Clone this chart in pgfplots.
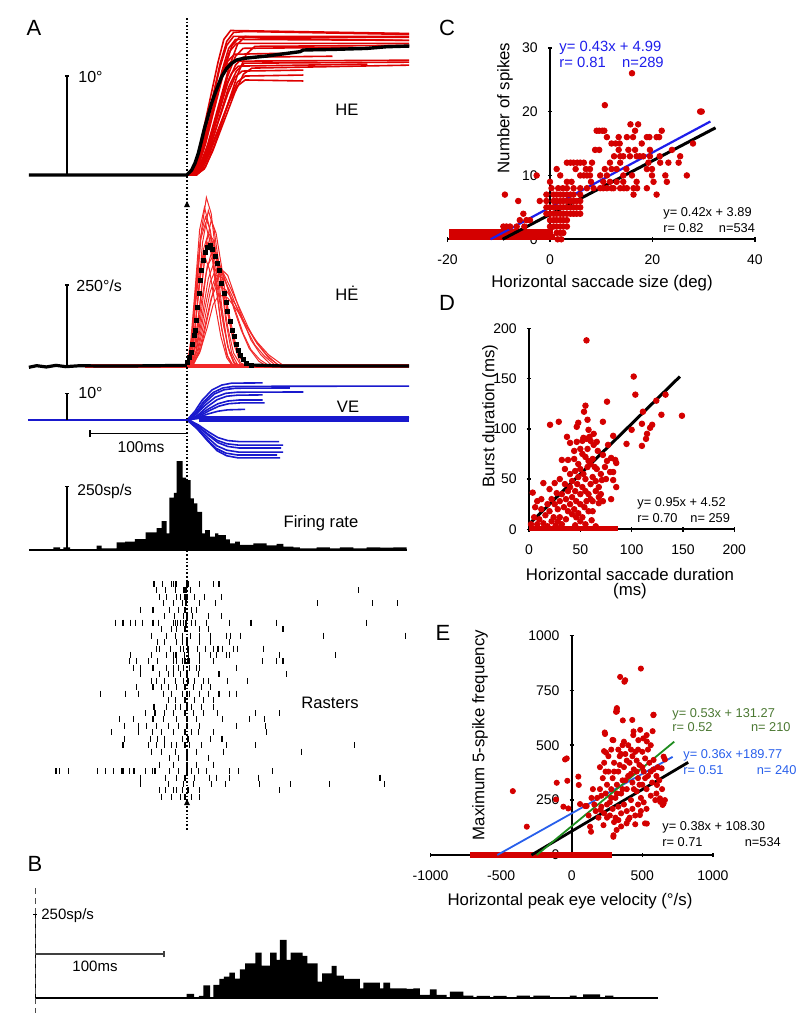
\documentclass[border=0pt]{standalone}
\usepackage{pgfplots}
\pgfplotsset{compat=1.18}
\usepackage{fontspec}
\setmainfont{Liberation Sans}
\definecolor{dotred}{RGB}{212,0,0}
\definecolor{herd}{RGB}{222,0,0}
\definecolor{velred}{RGB}{242,40,40}
\definecolor{veblue}{RGB}{25,25,205}
\definecolor{cblue}{RGB}{30,30,235}
\definecolor{eblue}{RGB}{40,95,235}
\definecolor{egreen}{RGB}{30,140,30}
\definecolor{tgreen}{RGB}{75,120,50}
\newcommand\fs[1]{\fontsize{#1}{#1}\selectfont}
\pgfplotsset{
  Abox/.style={scale only axis, width=191pt, xmin=-163.9, xmax=229.9, hide axis, clip=false, anchor=south west},
  scat/.style={only marks, mark=*, mark size=1.4pt, color=dotred, mark options={draw=dotred, fill=dotred}},
  sc/.style={scale only axis, anchor=south west, clip=false,
    tick align=outside, major tick length=2.2pt, tick style={black, line width=0.8pt},
    tick label style={font=\fs{7}},
    /pgf/number format/assume math mode=true,
    /pgf/number format/1000 sep={},
    xticklabel style={yshift=-3pt}, yticklabel style={xshift=-1.5pt}},
  noarrow/.style={axis line style={-, line width=1pt},
    every inner x axis line/.append style={-}, every inner y axis line/.append style={-},
    every outer x axis line/.append style={-}, every outer y axis line/.append style={-}},
  he/.style={herd, line width=0.8pt},
  ve/.style={velred, line width=0.5pt},
  vb/.style={veblue, line width=0.8pt},
}
\begin{document}
\begin{tikzpicture}
\path[use as bounding box] (0,0) rectangle (400pt,-506.5pt);

% ---------------- A: HE ----------------
\begin{axis}[Abox, at={(14pt,-90pt)}, height=80pt, ymin=-0.505, ymax=15.66]
\addplot[he] coordinates {(-105,0)(2,0)(9,0.9)(16,3.2)(25,7.2)(34,11.2)(41,13.5)(48,14.4)(60,14.5)(229,14.2)};
\addplot[he] coordinates {(-105,0)(4,0)(11.5,0.8)(19,3.1)(29,7)(39,10.8)(46.5,13.1)(54,13.9)(229,13.9)};
\addplot[he] coordinates {(-105,0)(3,0)(10,0.8)(17.5,2.9)(27,6.7)(36.5,10.4)(44,12.5)(51,13.3)(229,13.3)};
\addplot[he] coordinates {(-105,0)(6,0)(14,0.8)(21.5,2.8)(32,6.4)(42,10)(50,12)(58,12.8)(175,12.9)};
\addplot[he] coordinates {(-105,0)(5,0)(13,0.9)(21.5,3.1)(32.5,7)(43.5,10.9)(52,13.2)(60,14)(80,13.8)(229,13.6)};
\addplot[he] coordinates {(-105,0)(2,0)(8.6,0.7)(15,2.5)(24,5.8)(33,9)(39,10.8)(46,11.5)(229,11.6)};
\addplot[he] coordinates {(-105,0)(5,0)(12,0.7)(19.5,2.4)(29,5.5)(38.5,8.6)(46,10.3)(53,11)(186,11.2)};
\addplot[he] coordinates {(-105,0)(7,0)(14.5,0.6)(22,2.3)(32,5.3)(42,8.2)(49.5,9.9)(57,10.5)(120,10.6)};
\addplot[he] coordinates {(-105,0)(8,0)(16,0.6)(23.5,2.2)(34,5)(44.5,7.8)(52,9.4)(60,10)(120,10.1)};
\addplot[he] coordinates {(-105,0)(6,0)(14,0.6)(22,2.1)(33,4.8)(44,7.5)(52,9)(60,9.6)(120,9.5)};
\addplot[he] coordinates {(-105,0)(3,0)(10,0.7)(17,2.7)(26,6.1)(35,9.5)(42,11.5)(49,12.2)(100,12.3)};
\addplot[he] coordinates {(-105,0)(9,0)(17.7,0.6)(26.4,2.4)(38,5.4)(49.6,8.4)(58.3,10.2)(67,10.8)(229,11.1)};
\addplot[he] coordinates {(-105,0)(1,0)(7.6,0.9)(14,3.2)(23,7.3)(32,11.4)(38,13.7)(45,14.6)(229,14.3)};
\addplot[he] coordinates {(-105,0)(10,0)(19,0.8)(28,2.9)(40,6.5)(52,10.1)(61,12.2)(70,13)(229,13.1)};
\addplot[he] coordinates {(-105,0)(4,0)(11,0.8)(18,3)(27,6.8)(36,10.5)(43,12.8)(50,13.7)(229,13.6)};
\addplot[he] coordinates {(-105,0)(6,0)(14,0.7)(22,2.6)(32,6)(42,9.3)(50,11.1)(58,11.9)(150,12.0)};
\addplot[he] coordinates {(-105,0)(7,0)(15,0.7)(23,2.5)(33,5.7)(43,8.9)(51,10.5)(59,11.3)(229,11.4)};
\addplot[he] coordinates {(-105,0)(2,0)(9,0.9)(16,3.1)(25,7)(34,10.9)(41,13.1)(48,14)(229,14.0)};
\addplot[black, line width=1.7pt] coordinates {(-163,0)(-0.34,0)(4.8,0.5)(8.2,1.18)(11.7,2.19)(15.1,3.54)(18.5,4.88)(22,6.06)(25.4,7.24)(28.9,8.25)(32.3,9.09)(35.7,9.93)(40.9,10.77)(46,11.28)(51.2,11.62)(58,11.78)(82,12.02)(116.5,12.46)(119.9,12.63)(150.9,12.69)(185.3,12.79)(205.9,12.96)(229.2,13.03)};
\draw[black, line width=0.8pt] (axis cs:-123.7,0) -- (axis cs:-123.7,10);
\draw[black, line width=0.8pt] (axis cs:-126,10) -- (axis cs:-121.4,10);
\end{axis}

% ---------------- A: HE velocity ----------------
\begin{axis}[Abox, at={(14pt,-187.5pt)}, height=95pt, ymin=-27.78, ymax=558.6]
\addplot[velred, line width=2.2pt] coordinates {(-105,0)(229,0)};
\addplot[ve] coordinates {(0,0)(5,60)(10,230)(15,420)(20,520)(25,470)(30,340)(36,180)(42,60)(48,10)(55,0)};
\addplot[ve] coordinates {(1,0)(6,50)(11,200)(16,380)(22,480)(28,420)(34,290)(40,140)(46,40)(52,5)(60,0)};
\addplot[ve] coordinates {(0,0)(5,70)(10,250)(14,390)(19,440)(24,380)(30,240)(36,110)(42,30)(48,0)};
\addplot[ve] coordinates {(2,0)(7,40)(13,180)(18,330)(24,400)(30,350)(36,240)(42,120)(48,40)(55,5)(62,0)};
\addplot[ve] coordinates {(3,0)(9,40)(15,170)(20,290)(26,360)(32,330)(38,250)(44,150)(50,70)(56,20)(64,0)};
\addplot[ve] coordinates {(3,0)(10,50)(16,160)(22,270)(28,320)(35,300)(42,240)(50,170)(58,100)(66,50)(75,20)(85,0)};
\addplot[ve] coordinates {(4,0)(11,40)(18,140)(24,230)(30,280)(38,270)(46,220)(54,160)(62,110)(70,65)(80,30)(92,0)};
\addplot[ve] coordinates {(5,0)(12,40)(19,130)(25,210)(31,250)(40,235)(50,190)(60,130)(70,80)(82,35)(95,0)};
\addplot[ve] coordinates {(2,0)(8,60)(14,210)(20,380)(25,450)(30,410)(36,300)(42,170)(48,70)(55,10)(62,0)};
\addplot[ve] coordinates {(1,0)(6,60)(11,200)(16,330)(21,380)(26,340)(32,230)(38,120)(44,40)(50,0)};
\addplot[ve] coordinates {(5,0)(13,40)(21,120)(27,190)(33,220)(42,210)(52,170)(62,120)(72,75)(84,35)(100,0)};
\addplot[ve] coordinates {(0,0)(4,60)(9,200)(13,300)(18,340)(23,300)(29,190)(35,90)(41,25)(47,0)};
\addplot[ve] coordinates {(6,0)(14,50)(22,160)(29,260)(35,300)(42,280)(50,210)(58,140)(66,80)(76,35)(88,0)};
\addplot[ve] coordinates {(0,0)(4,80)(9,260)(13,420)(18,490)(23,430)(29,280)(35,130)(41,35)(47,0)};
\addplot[ve] coordinates {(2,0)(7,70)(12,230)(17,360)(22,410)(27,390)(33,300)(40,190)(47,90)(55,25)(63,0)};
\addplot[ve] coordinates {(3,0)(9,60)(15,200)(21,310)(27,340)(33,320)(40,260)(48,180)(56,110)(64,55)(74,15)(82,0)};
\addplot[ve] coordinates {(1,0)(5,90)(10,280)(14,400)(19,460)(24,420)(30,300)(36,160)(42,60)(49,10)(56,0)};
\addplot[ve] coordinates {(4,0)(11,50)(18,170)(24,260)(30,300)(37,290)(45,240)(54,180)(63,120)(72,70)(84,25)(96,0)};
\addplot[black, line width=1.6pt] coordinates {(-163,-4)(-155,1)(-145,-3)(-135,2)(-125,-2)(-110,1)(-90,0)(-60,0)(0,2)};
\addplot[black, line width=1.6pt] coordinates {(66.7,3)(100,0)(229,0)};
\addplot[only marks, mark=square*, mark size=1pt, black] coordinates {(0.35,10)(2.4,26)(4.8,42)(5.8,67)(7.6,93)(8.8,110)(10.2,140)(11.2,180)(12.4,225)(13.6,265)(15,295)(16.8,325)(18.9,350)(21.3,365)(23.7,371)(26.5,360)(29.2,337)(31.6,317)(33.3,294)(35.7,255)(38.1,224)(40.2,195)(41.9,168)(44.3,137)(46.4,111)(48.5,90)(50.5,68)(52.9,49)(55.4,34)(58,19)(61.5,8)(66.7,3)};
\draw[black, line width=0.8pt] (axis cs:-123.7,0) -- (axis cs:-123.7,250);
\draw[black, line width=0.8pt] (axis cs:-126,250) -- (axis cs:-121.4,250);
\end{axis}

% ---------------- A: VE ----------------
\begin{axis}[Abox, at={(14pt,-232.5pt)}, height=45pt, ymin=-16.85, ymax=16.85]
\addplot[vb] coordinates {(-163.9,0)(0,0)};
\addplot[veblue, line width=3pt] coordinates {(12,0.5)(229,0.5)};
\addplot[vb] coordinates {(0,0)(8,0.4)(16,0.8)(26,0.9)(229,0.9)};
\addplot[vb] coordinates {(0,0)(8,3.2)(16,7.6)(26,11.3)(36,13.1)(46,13.8)(78,13.9)};
\addplot[vb] coordinates {(1,0)(9,2.8)(17,6.8)(27,10.3)(37,12.0)(48,12.6)(229,12.7)};
\addplot[vb] coordinates {(2,0)(10,2.6)(18,6.3)(28,9.7)(38,11.3)(50,11.9)(106,12.0)};
\addplot[vb] coordinates {(1,0)(10,2.4)(19,5.6)(29,8.5)(40,10.0)(52,10.4)(120,10.5)};
\addplot[vb] coordinates {(3,0)(12,2.1)(21,5.0)(31,7.6)(41,8.9)(52,9.3)(78,9.4)};
\addplot[vb] coordinates {(2,0)(12,1.8)(22,4.1)(32,6.1)(42,7.1)(54,7.5)(78,7.5)};
\addplot[vb] coordinates {(3,0)(13,1.5)(23,3.5)(33,5.2)(43,6.1)(55,6.4)(80,6.4)};
\addplot[vb] coordinates {(2,0)(12,1.0)(22,2.3)(32,3.3)(42,3.8)(60,4.0)};
\addplot[vb] coordinates {(2,0)(12,-1.9)(22,-4.4)(32,-6.6)(42,-7.7)(54,-8.1)(95,-8.1)};
\addplot[vb] coordinates {(1,0)(11,-2.2)(21,-5.1)(31,-7.6)(41,-8.9)(53,-9.4)(99,-9.4)};
\addplot[vb] coordinates {(2,0)(12,-2.5)(22,-5.7)(32,-8.5)(42,-9.9)(54,-10.5)(97,-10.5)};
\addplot[vb] coordinates {(1,0)(11,-2.8)(21,-6.5)(31,-9.7)(41,-11.3)(53,-12.0)(99,-12.0)};
\addplot[vb] coordinates {(0,0)(10,-3.1)(20,-7.1)(30,-10.6)(40,-12.4)(52,-13.1)(93,-13.1)};
\addplot[vb] coordinates {(1,0)(11,-3.4)(21,-7.7)(31,-11.5)(41,-13.4)(53,-14.2)(96,-14.2)};
\draw[black, line width=0.8pt] (axis cs:-123.7,0) -- (axis cs:-123.7,10);
\draw[black, line width=0.8pt] (axis cs:-126,10) -- (axis cs:-121.4,10);
\draw[black, line width=0.8pt] (axis cs:-100,-5) -- (axis cs:0,-5);
\draw[black, line width=0.8pt] (axis cs:-100,-6.2) -- (axis cs:-100,-3.8);
\end{axis}

% ---------------- A: firing rate ----------------
\begin{axis}[Abox, at={(14pt,-276pt)}, height=51pt, ymin=-7.9, ymax=394.9]
\addplot[const plot, fill=black, draw=none] coordinates {(-137.8,10.5)(-130.9,0)(-127.5,10.5)(-120.6,0)(-93.1,17)(-88,6.6)(-72.5,30)(-63.9,33)(-53.6,43)(-42.6,70)(-31.3,86)(-26.1,114)(-21,66)(-18.2,207)(-13.4,226)(-10.7,351)(-4.5,286)(-1,276)(3.8,204)(7.2,184)(10.7,151)(15.5,66)(18.6,79)(23.7,53)(28.9,66)(32.3,59)(40.2,42)(44.3,26)(49.5,33)(54.6,20)(68.4,26)(82.1,18)(92.4,24)(99.3,13)(109.6,10.5)(116.5,6.6)(133.7,10.5)(147.4,6.6)(157.7,10.5)(171.5,6.6)(185.2,10.5)(199,9)(212.7,10.5)(226.5,10.5)} \closedcycle;
\addplot[black, line width=1pt] coordinates {(-163,0)(226.5,0)};
\draw[black, line width=0.8pt] (axis cs:-123.7,0) -- (axis cs:-123.7,250);
\draw[black, line width=0.8pt] (axis cs:-126,250) -- (axis cs:-121.4,250);
\end{axis}

% ---------------- A: rasters ----------------
\begin{axis}[Abox, at={(14pt,-402.5pt)}, height=113.5pt, ymin=0.07, ymax=35.26, y dir=reverse]
\addplot[only marks, mark=|, mark size=1.5pt, mark options={line width=0.55pt, black}] coordinates {
(-34,1)(-25,1)(-16,1)(-14,1)(-12,1)(-11,1)(0,1)(1,1)(13,1)(27,1)(33,1)
(-31,2)(-22,2)(-12,2)(-4,2)(-3,2)(-1,2)(4,2)(177,2)
(-28,3)(-21,3)(-11,3)(-7,3)(-2,3)(0,3)(8,3)(18,3)(36,3)
(-24,4)(-14,4)(-5,4)(-1,4)(13,4)(29,4)(135,4)(191,4)(217,4)
(-48,5)(-35,5)(-18,5)(-9,5)(-2,5)(5,5)(10,5)
(-23,6)(-13,6)(-4,6)(0,6)(6,6)(22,6)(36,6)
(-74,7)(-66,7)(-58,7)(-53,7)(-46,7)(-35,7)(-29,7)(-14,7)(-12,7)(-10,7)(-7,7)(-4,7)(-1,7)(5,7)(9,7)(20,7)(44,7)(66,7)(92,7)(185,7)
(-26,8)(-16,8)(-11,8)(-2,8)(13,8)(22,8)(99,8)
(-37,9)(-21,9)(-12,9)(-5,9)(4,9)(13,9)(24,9)(41,9)(45,9)(55,9)(141,9)(225,9)
(-30,10)(-23,10)(-11,10)(-5,10)(0,10)(13,10)(24,10)(44,10)
(-31,11)(-28,11)(-17,11)(-7,11)(-4,11)(1,11)(11,11)(19,11)(27,11)(32,11)(37,11)(48,11)(52,11)(79,11)
(-58,12)(-37,12)(-21,12)(-14,12)(-12,12)(-11,12)(-3,12)(2,12)(13,12)(24,12)(30,12)(41,12)(44,12)(95,12)(153,12)
(-59,13)(-52,13)(-40,13)(-30,13)(-14,13)(-11,13)(-5,13)(-2,13)(1,13)(3,13)(13,13)(27,13)(78,13)(92,13)(99,13)
(-55,14)(-48,14)(-35,14)(-21,14)(-14,14)(-9,14)(-4,14)(3,14)(10,14)(13,14)(51,14)
(-48,15)(-28,15)(-19,15)(-14,15)(-7,15)(0,15)(12,15)(33,15)(103,15)
(-37,16)(-31,16)(-23,16)(-12,16)(-4,16)(1,16)(8,16)(17,16)(22,16)(42,16)(62,16)
(-52,17)(-35,17)(-26,17)(-19,17)(-11,17)(-2,17)(7,17)(15,17)(24,17)
(-89,18)(-63,18)(-50,18)(-24,18)(-16,18)(-5,18)(0,18)(3,18)(13,18)(22,18)(33,18)(44,18)(51,18)
(-19,19)(-12,19)(-2,19)(8,19)(17,19)(27,19)
(-34,20)(-21,20)(-12,20)(-7,20)(0,20)(5,20)(15,20)(27,20)
(-43,21)(-33,21)(-23,21)(-14,21)(-2,21)(7,21)(17,21)(31,21)(71,21)(95,21)
(-70,22)(-55,22)(-35,22)(-24,22)(-11,22)(0,22)(10,22)(37,22)(64,22)(80,22)
(-64,23)(-50,23)(-42,23)(-31,23)(-19,23)(-9,23)(0,23)(13,23)(51,23)(81,23)
(-78,24)(-50,24)(-36,24)(-26,24)(-14,24)(-2,24)(5,24)(12,24)(27,24)(82,24)
(-64,25)(-38,25)(-30,25)(-23,25)(-5,25)(1,25)(24,25)(36,25)(37,25)
(-66,26)(-40,26)(-31,26)(-23,26)(-16,26)(-11,26)(-2,26)(3,26)(15,26)(41,26)(71,26)(173,26)
(-37,27)(-26,27)(-12,27)(0,27)(10,27)(38,27)(118,27)
(-18,28)(-9,28)(0,28)(22,28)
(-28,29)(-14,29)(0,29)(10,29)(27,29)
(-135,30)(-131,30)(-122,30)(-92,30)(-84,30)(-76,30)(-67,30)(-66,30)(-59,30)(-55,30)(-54,30)(-43,30)(-36,30)(-33,30)(-18,30)(-9,30)(0,30)(5,30)(12,30)(20,30)(44,30)(53,30)(88,30)
(-48,31)(-22,31)(-11,31)(-2,31)(8,31)(23,31)(30,31)(44,31)(74,31)(199,31)
(-48,32)(-19,32)(-4,32)(7,32)(25,32)(40,32)(75,32)(107,32)(147,32)(204,32)
(-28,33)(-22,33)(-14,33)(-11,33)(-5,33)(1,33)(13,33)(95,33)
(-26,34)(-16,34)(-7,34)(-2,34)(5,34)(13,34)};
\end{axis}

% ---------------- B ----------------
\begin{axis}[scale only axis, hide axis, clip=false, anchor=south west, at={(17.5pt,-499.15pt)}, width=312.5pt, height=42pt, xmin=0, xmax=484.5, ymin=0, ymax=250]
\addplot[const plot, fill=black, draw=none] coordinates {(117.6,12.9)(123.3,0)(127.1,6.9)(130.5,38.7)(135.7,0)(138.2,39.7)(142.9,57.5)(146.5,64.5)(150.6,76.4)(155,58.5)(158.9,86.3)(162.8,104.2)(170.8,135.9)(175.7,97.2)(182.2,135.9)(187.3,114.1)(189.9,173.6)(195.1,114.1)(198.2,135.9)(207.5,126)(211.1,104.2)(219.1,49.6)(222.5,74.4)(230,96.2)(233.9,67.5)(239.5,57.5)(251.9,29.8)(254.5,46.6)(267.4,29.8)(270,46.6)(275.2,29.8)(288.1,27.8)(293.3,29.8)(298.4,9.9)(306.2,26.8)(311.4,9.9)(319.1,0)(321.7,19.8)(332,7.9)(339.8,0)(342.4,6.9)(352.7,0)(355.3,6.9)(365.7,0)(373.4,7.9)(383.7,0)(386.3,7.9)(399.2,0)(414.7,7.9)(419.9,0)(425,11.9)(438,0)(441.9,7.9)(448.3,0)} \closedcycle;
\addplot[black, line width=0.9pt] coordinates {(0,0)(483.2,0)};
\draw[black, line width=0.5pt] (axis cs:0,0) -- (axis cs:0,250);
\draw[black, line width=0.5pt] (axis cs:-1.5,250) -- (axis cs:1.5,250);
\draw[black!75, line width=0.6pt] (axis cs:0,131.8) -- (axis cs:100,131.8);
\draw[black!75, line width=0.6pt] (axis cs:100,122) -- (axis cs:100,141);
\end{axis}

% ---------------- C ----------------
\begin{axis}[sc, at={(223.75pt,-119.65pt)}, width=153.75pt, height=95.8pt,
  xmin=-20, xmax=40, ymin=0, ymax=30, axis lines=middle, noarrow,
  hide obscured x ticks=false, hide obscured y ticks=false,
  xtick={-20,0,20,40}, ytick={0,10,20,30}]
\addplot[dotred, line width=2.8pt] coordinates {(-19.7,0.4)(1,0.4)};
\addplot[dotred, line width=2.8pt] coordinates {(-19.7,1.2)(0.5,1.2)};
\addplot[scat] coordinates {
(16,26)(10.7,21)(29.3,20)(29.6,20)(15.7,18)(17.2,18)
(9.1,17)(9.6,17)(10.2,17)(10.6,17)(16.6,17)(21.8,17)
(11.1,16)(13.4,16)(15,16)(16.2,16)(18.9,16)(19.4,16)(20.8,16)(21.3,16)
(12,15)(12.8,15)(13.6,15)(17.9,15)(27.9,15)
(8.8,14)(9.6,14)(13.4,14)(15.3,14)(16.6,14)(19.5,14)(23.8,14)
(12.5,13)(13.7,13)(14.3,13)(15.6,13)(16.9,13)(17.5,13)(18.2,13)(19.5,13)(21.4,13)(25.4,13)
(3.3,12)(4,12)(4.6,12)(5.3,12)(5.9,12)(6.6,12)(8.2,12)(11.7,12)(13.7,12)(19.2,12)(21.5,12)(23.1,12)(25.1,12)
(1.3,11)(5,11)(7,11)(7.8,11)(10.7,11)(12,11)(13,11)(14.9,11)(18.9,11)(19.9,11)
(-2.6,10)(2,10)(5.9,10)(6.6,10)(7.2,10)(7.8,10)(9.8,10)(11.1,10)(14.3,10)(16,10)(19.9,10)(22.5,10)(26.7,10)
(0,9)(3.3,9)(4.2,9)(8,9)(10.4,9)(11.7,9)(13,9)(14.3,9)(16.9,9)(20.2,9)(22.8,9)
(0.3,8)(1.6,8)(2.5,8)(3.3,8)(4.6,8)(5.9,8)(7.2,8)(8.5,8)(9.8,8)(11.1,8)(12.4,8)(13.7,8)(15,8)(16.3,8)(18.9,8)(10.4,8)(12,8)(14.4,8)(17,8)
(-8.8,7)(-0.7,7)(0.7,7)(2,7)(3.3,7)(4.6,7)(5.9,7)(16.3,7)(20.8,7)(1.3,7)(2.6,7)(4,7)
(-6.2,6)(-2,6)(-0.7,6)(0.7,6)(1.3,6)(2,6)(3.3,6)(4.6,6)(5.9,6)(2.6,6)(4,6)(5.2,6)
(-0.7,5)(0,5)(0.7,5)(1.3,5)(2,5)(2.6,5)(3.3,5)(4.6,5)(5.9,5)(4,5)(5.2,5)
(-5.2,4)(-0.7,4)(0,4)(0.7,4)(1.3,4)(2,4)(2.6,4)(3.3,4)(4.6,4)(5.9,4)(4,4)(5.2,4)
(-5.9,3)(-4.6,3)(-3.9,3)(0,3)(0.7,3)(1.3,3)(2,3)(2.6,3)(3.3,3)
(-9.1,2)(-8.5,2)(-7.8,2)(-6.5,2)(-5,2)(0,2)(0.7,2)(1.3,2)(2,2)(2.6,2)(3.3,2)
(1.3,1)(2,1)(2.6,1)(1.5,0)(2.2,0)};
\addplot[black, line width=1.5pt] coordinates {(-9.26,0)(32.3,17.46)};
\addplot[cblue, line width=1.1pt] coordinates {(-11.6,0)(31.3,18.45)};
\end{axis}

% ---------------- D ----------------
\begin{axis}[sc, at={(264.5pt,-264.65pt)}, width=102.65pt, height=100.5pt,
  xmin=0, xmax=200, ymin=0, ymax=200, axis x line=bottom, axis y line=left, noarrow,
  xtick={0,50,100,150,200}, ytick={0,50,100,150,200}]
\addplot[dotred, line width=2.7pt] coordinates {(0,1)(87,1)};
\addplot[scat] coordinates {
(56,188)(102,152)(103.6,134)(133,134)(124,128)(76,127)(55,123)(53.6,117)(129,114)(149,113)
(20.5,104)(29,107)(48,106)(46.5,102)(72,107)(111,117)(110,105)(120,104)(118,101)(100,99)
(58,99)(57,109)(37,92)(82,93)(115,95)(114,90)(95,85)(110,83)(40,86)(46.5,87)(53,91)(59,92)
(66,87)(77,84)(3.6,36.5)(14,46)(25,46)(32,69)(38,69)(68,26)(61,9)(84,69)(85,66)(79,57)(82,57)
(82,49)(71,49)(80,71)(72,74)
(50,80)(52,75)(55,72)(58,68)(60,65)(62,70)(64,62)(66,60)(57,62)(50,60)(53,55)(45,58)(48,52)
(40,55)(42,48)(47,45)(52,42)(55,38)(58,35)(60,30)(62,28)(50,35)(45,38)(40,42)(35,45)(38,38)
(42,32)(46,28)(50,25)(54,22)(58,18)(36,30)(32,35)(30,28)(34,22)(38,18)(42,15)(46,12)(50,8)
(28,20)(25,25)(22,30)(20,18)(24,12)(28,8)(32,5)(36,10)(16,14)(12,20)(10,10)(14,6)(18,3)(8,5)
(5,12)(2,5)(6,22)(20,40)(27,36)(62,52)(65,48)(68,42)(70,55)(74,62)(76,68)(67,78)(63,84)
(60,88)(56,90)(63,95)(35,60)(30,50)(44,70)(48,65)(55,50)(60,45)(65,38)(68,32)(72,28)(40,25)
(44,20)(48,16)(52,12)(30,12)(26,4)(45,4)(55,5)(65,3)(22,8)(12,30)(8,28)(18,25)(57,80)(52,88)
(44,78)(70,35)(75,50)(85,42)(80,30)(62,18)(56,28)};
\addplot[black, line width=1.5pt] coordinates {(0,5)(147,152)};
\end{axis}

% ---------------- E ----------------
\begin{axis}[sc, at={(215.25pt,-427.5pt)}, width=141.2pt, height=109.8pt,
  xmin=-1000, xmax=1000, ymin=0, ymax=1000, axis lines=middle, noarrow,
  hide obscured x ticks=false, hide obscured y ticks=false,
  xtick={-1000,-500,0,500,1000}, ytick={0,250,500,750,1000}]
\addplot[dotred, line width=2.6pt] coordinates {(-720,0)(283,0)};
\addplot[scat, mark size=1.3pt] coordinates {
(490,849)(343,811)(379,796)(320,669)(320,654)(580,639)(362,613)(234,558)(289,524)(438,563)
(-417,291)(-318,129)(-106,329)(-111,253)(-47,435)(-35,440)(-31,338)(-59,220)(-24,212)(47,357)
(50,319)(59,232)(106,223)(130,129)(137,106)(205,205)(236,551)(229,473)(243,466)(295,523)
(314,652)(318,663)(373,789)(429,615)(370,516)(436,546)(472,523)(507,531)(531,546)(578,637)
(573,564)(318,114)(295,83)(389,144)(483,182)(519,144)(625,258)(644,228)(660,435)(637,395)
(592,250)(627,242)(651,235)(604,319)(580,433)(651,448)(532,517)(485,570)(225,136)(296,90)
(331,159)(532,143)(95,223)
(180,260)(200,300)(220,350)(240,280)(250,320)(260,380)(270,240)(280,300)(290,350)(300,420)
(310,260)(320,320)(330,380)(340,450)(350,280)(360,340)(370,400)(380,460)(390,300)(400,360)
(410,420)(420,250)(430,330)(440,390)(450,470)(460,290)(470,350)(480,410)(490,260)(500,320)
(510,380)(520,440)(530,300)(540,360)(550,420)(560,270)(570,330)(580,390)(600,280)(620,340)
(610,400)(170,200)(190,170)(210,220)(230,190)(250,230)(270,180)(290,210)(310,170)(330,220)
(350,190)(370,230)(390,200)(410,170)(430,210)(450,180)(470,230)(490,200)(510,240)(530,210)
(200,400)(230,420)(260,450)(280,480)(330,480)(360,500)(400,500)(420,480)(460,430)(500,470)
(540,480)(560,500)(250,170)(300,150)(350,130)(400,160)(450,140)(280,260)(320,280)(360,300)
(440,300)(480,320)(520,350)(560,380)(600,360)(640,300)(660,250)(300,380)(340,410)(380,340)
(420,370)(460,380)(500,400)(470,480)(430,450)(390,430)(350,460)(240,380)(210,270)(150,300)
(160,230)(120,180)(140,260)};
\addplot[black, line width=1.4pt] coordinates {(-285,0)(825,421.8)};
\addplot[eblue, line width=0.9pt] coordinates {(-527,0)(715,447)};
\addplot[egreen, line width=0.9pt] coordinates {(-248,0)(726,516)};
\end{axis}

% ---------------- texts and marks (pixel grid) ----------------
\begin{scope}[x=0.5pt, y=-0.5pt]
\draw[densely dotted, line width=0.8pt] (187,18) -- (187,830);
\fill (184,207) -- (190,207) -- (187,201) -- cycle;
\fill (184,805) -- (190,805) -- (187,799) -- cycle;
\draw[densely dashed, line width=0.35pt, black!70] (35,888) -- (35,1013);
\node[font=\fs{11}] at (34,28) {A};
\node[font=\fs{8}, anchor=west, inner sep=0] at (78,77) {10°};
\node[font=\fs{8.3}] at (347,110) {HE};
\node[font=\fs{8}, anchor=west, inner sep=0] at (76,286) {250°/s};
\node[font=\fs{8.3}] at (347,293) {H\.{E}};
\node[font=\fs{8}, anchor=west, inner sep=0] at (78,393) {10°};
\node[font=\fs{8.3}] at (348,407) {VE};
\node[font=\fs{7.8}] at (141,447) {100ms};
\node[font=\fs{7.8}, anchor=west, inner sep=0] at (77,491) {250sp/s};
\node[font=\fs{8.3}] at (321,523) {Firing rate};
\node[font=\fs{8.3}] at (330,703) {Rasters};
\node[font=\fs{11}] at (35,864) {B};
\node[font=\fs{7.5}, anchor=west, inner sep=0] at (41,916) {250sp/s};
\node[font=\fs{7.5}] at (95,966) {100ms};
\node[font=\fs{11}] at (447,28) {C};
\node[font=\fs{8.4}, rotate=90] at (505,108) {Number of spikes};
\node[font=\fs{8.4}] at (602,283) {Horizontal saccade size (deg)};
\node[font=\fontsize{7.4}{7.8}\selectfont, anchor=west, inner sep=0, align=left, text=cblue] at (559,54.5) {y= 0.43x + 4.99\\r= 0.81\hspace{1.1em}n=289};
\node[font=\fontsize{6.4}{8}\selectfont, anchor=west, inner sep=0, align=left] at (663,219.7) {y= 0.42x + 3.89\\r= 0.82\hspace{1.2em}n=534};
\node[font=\fs{11}] at (447,303) {D};
\node[font=\fs{8.4}, rotate=90] at (490,416) {Burst duration (ms)};
\node[font=\fs{8.4}] at (630,574) {Horizontal saccade duration};
\node[font=\fs{8.4}] at (630,591) {(ms)};
\node[font=\fontsize{6.4}{8.1}\selectfont, anchor=west, inner sep=0, align=left] at (637,510) {y= 0.95x + 4.52\\r= 0.70\hspace{1em}n= 259};
\node[font=\fs{11}] at (443,633) {E};
\node[font=\fs{8.4}, rotate=90] at (480,735) {Maximum 5-spike frequency};
\node[font=\fs{8.4}] at (570,901) {Horizontal peak eye velocity (°/s)};
\node[font=\fontsize{6.4}{7.2}\selectfont, anchor=west, inner sep=0, align=left, text=tgreen] at (672,720) {y= 0.53x + 131.27\\r= 0.52\hspace{3em}n= 210};
\node[font=\fontsize{6.4}{8}\selectfont, anchor=west, inner sep=0, align=left, text=eblue] at (683,762) {y= 0.36x +189.77\\r= 0.51\hspace{2.6em}n= 240};
\node[font=\fontsize{6.4}{8}\selectfont, anchor=west, inner sep=0, align=left] at (662,834) {y= 0.38x + 108.30\\r= 0.71\hspace{3.3em}n=534};
\end{scope}
\end{tikzpicture}
\end{document}
